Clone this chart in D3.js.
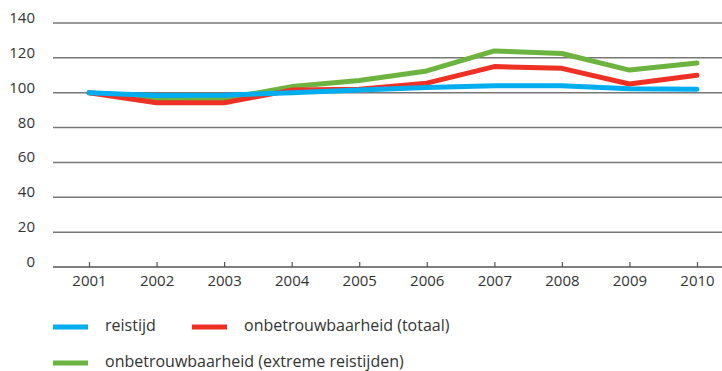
<!DOCTYPE html>
<html>
<head>
<meta charset="utf-8">
<script src="https://cdn.jsdelivr.net/npm/d3@7"></script>
<style>
  body { margin: 0; background: #fff; }
  text { font-family: "Open Sans", sans-serif; fill: #333; }
</style>
</head>
<body>
<div id="chart"></div>
<script>
const years = ["2001","2002","2003","2004","2005","2006","2007","2008","2009","2010"]
const reistijd = [100, 98.4, 98.6, 100, 101.5, 103, 104, 104, 102.3, 102]
const totaal = [100, 94.2, 94.2, 101.5, 102, 105.5, 115, 114, 105, 110]
const extreem = [100, 96.5, 96.5, 103.5, 107, 112.5, 124, 122.5, 113, 117]
const yTicks = [0, 20, 40, 60, 80, 100, 120, 140]

const series = [
    { name: "reistijd", values: reistijd, color: "#00aeef" },
    { name: "onbetrouwbaarheid (totaal)", values: totaal, color: "#ee3124" },
    { name: "onbetrouwbaarheid (extreme reistijden)", values: extreem, color: "#6db33f" }
]

let width = 722
let height = 371

const svg = d3.select("#chart")
    .append("svg")
    .attr("width", width)
    .attr("height", height)

let x = d3.scalePoint().domain(years).range([89, 697])
let y = d3.scaleLinear().domain([0, 140]).range([267, 23])

// gridlines
svg.selectAll(".grid")
    .data(yTicks.filter(d => d > 0))
    .enter().append("line")
    .attr("x1", 53).attr("x2", 722)
    .attr("y1", d => y(d)).attr("y2", d => y(d))
    .attr("stroke", "#777")
    .attr("stroke-width", 1.5)

// y labels
svg.selectAll(".ylab")
    .data(yTicks)
    .enter().append("text")
    .attr("x", 35)
    .attr("y", d => y(d) - 4)
    .attr("text-anchor", "end")
    .attr("dominant-baseline", "middle")
    .style("font-size", "15px")
    .text(d => d)

// x axis
const xAxis = svg.append("g")
    .attr("transform", "translate(0," + y(0) + ")")
    .call(d3.axisBottom(x).tickSizeInner(-5).tickSizeOuter(0).tickPadding(8))
xAxis.select(".domain").remove()
xAxis.selectAll(".tick line").attr("stroke", "#555").attr("stroke-width", 1.2)
xAxis.selectAll(".tick text").style("font-size", "15px").style("font-family", "Open Sans, sans-serif").attr("fill", "#333")
svg.append("line")
    .attr("x1", 53).attr("x2", 722)
    .attr("y1", y(0)).attr("y2", y(0))
    .attr("stroke", "#555").attr("stroke-width", 1.5)

const line = d3.line()
    .x((d, i) => x(years[i]))
    .y(d => y(d))

// draw green, red, then blue on top
;[series[2], series[1], series[0]].forEach(s => {
    svg.append("path")
        .datum(s.values)
        .attr("d", line)
        .attr("fill", "none")
        .attr("stroke", s.color)
        .attr("stroke-width", 5)
        .attr("stroke-linecap", "round")
        .attr("stroke-linejoin", "round")
})

// legend
const legendPos = [[53, 327], [192, 327], [53, 363]]
series.forEach((s, i) => {
    const [lx, ly] = legendPos[i]
    svg.append("line")
        .attr("x1", lx).attr("x2", lx + 35)
        .attr("y1", ly).attr("y2", ly)
        .attr("stroke", s.color)
        .attr("stroke-width", 5)
    svg.append("text")
        .attr("x", lx + 52)
        .attr("y", ly)
        .attr("dominant-baseline", "middle")
        .style("font-size", "16px")
        .text(s.name)
})
</script>
</body>
</html>
